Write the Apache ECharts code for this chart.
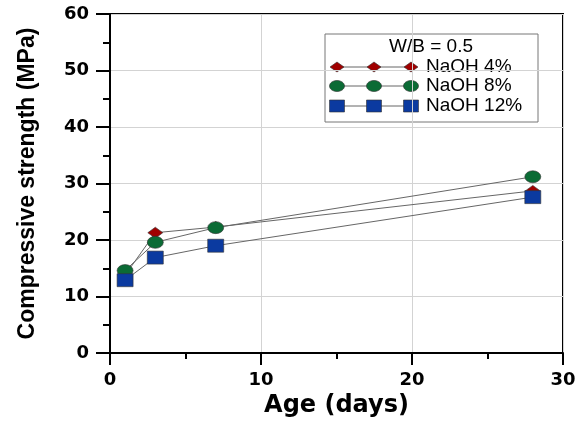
<!doctype html>
<html>
<head>
<meta charset="utf-8">
<title>compressive strength</title>
<script src="https://cdn.jsdelivr.net/npm/echarts@6/dist/echarts.min.js"></script>
<style>
  html,body{margin:0;padding:0;background:#fff;}
  #chart{width:584px;height:423px;}
</style>
</head>
<body>
<div id="chart"></div>
<script>
// data
var days = [1, 3, 7, 28];
var naoh4 = [13.8, 21.3, 22.3, 28.7];
var naoh8 = [14.6, 19.6, 22.2, 31.2];
var naoh12 = [12.9, 16.9, 19.0, 27.6];
var seriesNames = ['NaOH 4%', 'NaOH 8%', 'NaOH 12%'];
var xTicks = [0, 10, 20, 30];
var yTicks = [0, 10, 20, 30, 40, 50, 60];
var legendTitle = 'W/B = 0.5';

// look
var colors = ['#a00000', '#0b6b35', '#0b3aa0'];
var symbols = ['diamond', 'ellipse', 'rect'];
var symbolSizes = [[15, 11], [16, 12], [16, 13]];

function pairs(vals){
    var out = [];
    for (var i = 0; i < days.length; i++) out.push([days[i], vals[i]]);
    return out;
}

function symName(s){ return s == 'ellipse' ? 'circle' : s; }

var chart = echarts.init(document.getElementById('chart'));

var series = [naoh4, naoh8, naoh12].map(function(vals, k){
    return {
        name: seriesNames[k],
        type: 'line',
        data: pairs(vals),
        symbol: symName(symbols[k]),
        symbolSize: symbolSizes[k],
        lineStyle: {color: '#666', width: 1},
        itemStyle: {color: colors[k], borderColor: '#333', borderWidth: 0.6},
        z: 3 + k
    };
});

// legend drawn by hand: line with three markers
var lgX = 325, lgY = 34;
var legendEls = [
    {type: 'rect', shape: {x: lgX, y: lgY, width: 213, height: 88},
     style: {fill: '#fff', stroke: '#777', lineWidth: 1}},
    {type: 'text', x: 431, y: 47,
     style: {text: legendTitle, font: '19px "Liberation Sans", Arial', fill: '#000',
             align: 'center', verticalAlign: 'middle'}}
];
var rowY = [67, 86, 106];
for (var k = 0; k < 3; k++) {
    legendEls.push({type: 'line', shape: {x1: 337, y1: rowY[k], x2: 411, y2: rowY[k]},
        style: {stroke: '#666', lineWidth: 1}});
    [337, 374, 411].forEach(function(px){
        var w = symbolSizes[k][0] - 1, h = symbolSizes[k][1] - 1;
        var el;
        if (symbols[k] == 'diamond') {
            el = {type: 'polygon', shape: {points: [[px, rowY[k]-h/2], [px+w/2, rowY[k]], [px, rowY[k]+h/2], [px-w/2, rowY[k]]]}};
        } else if (symbols[k] == 'ellipse') {
            el = {type: 'ellipse', shape: {cx: px, cy: rowY[k], rx: w/2, ry: h/2}};
        } else {
            el = {type: 'rect', shape: {x: px-w/2, y: rowY[k]-h/2, width: w, height: h}};
        }
        el.style = {fill: colors[k], stroke: '#333', lineWidth: 0.6};
        legendEls.push(el);
    });
    legendEls.push({type: 'text', x: 426, y: rowY[k],
        style: {text: seriesNames[k], font: '19px "Liberation Sans", Arial', fill: '#000',
                align: 'left', verticalAlign: 'middle'}});
}

var option = {
    animation: false,
    backgroundColor: '#fff',
    grid: {left: 110, top: 14, right: 21, bottom: 68, show: true,
           borderColor: '#000', borderWidth: 2, backgroundColor: 'transparent'},
    xAxis: {
        type: 'value', min: xTicks[0], max: xTicks[xTicks.length-1], interval: 10,
        name: 'Age (days)', nameLocation: 'middle', nameGap: 40,
        nameTextStyle: {fontFamily: 'DejaVu Sans', fontWeight: 'bold', fontSize: 24, color: '#000'},
        axisLine: {lineStyle: {color: '#000', width: 2}},
        axisTick: {length: 12, lineStyle: {color: '#000', width: 2}},
        minorTick: {show: true, splitNumber: 2, length: 6, lineStyle: {color: '#000', width: 2}},
        splitLine: {show: true, lineStyle: {color: '#d3d3d3', width: 1}},
        axisLabel: {margin: 18, fontFamily: 'DejaVu Sans', fontWeight: 'bold', fontSize: 18, color: '#000'}
    },
    yAxis: {
        type: 'value', min: yTicks[0], max: yTicks[yTicks.length-1], interval: 10,
        name: 'Compressive strength (MPa)', nameLocation: 'middle', nameGap: 71,
        nameTextStyle: {fontFamily: 'Liberation Sans', fontWeight: 'bold', fontSize: 23, color: '#000'},
        axisLine: {lineStyle: {color: '#000', width: 2}},
        axisTick: {length: 14, lineStyle: {color: '#000', width: 2}},
        minorTick: {show: true, splitNumber: 2, length: 7, lineStyle: {color: '#000', width: 2}},
        splitLine: {show: true, lineStyle: {color: '#d3d3d3', width: 1}},
        axisLabel: {margin: 21, fontFamily: 'DejaVu Sans', fontWeight: 'bold', fontSize: 18, color: '#000'}
    },
    graphic: [{type: 'group', z: 100, children: legendEls}],
    series: series
};
chart.setOption(option);
</script>
</body>
</html>
